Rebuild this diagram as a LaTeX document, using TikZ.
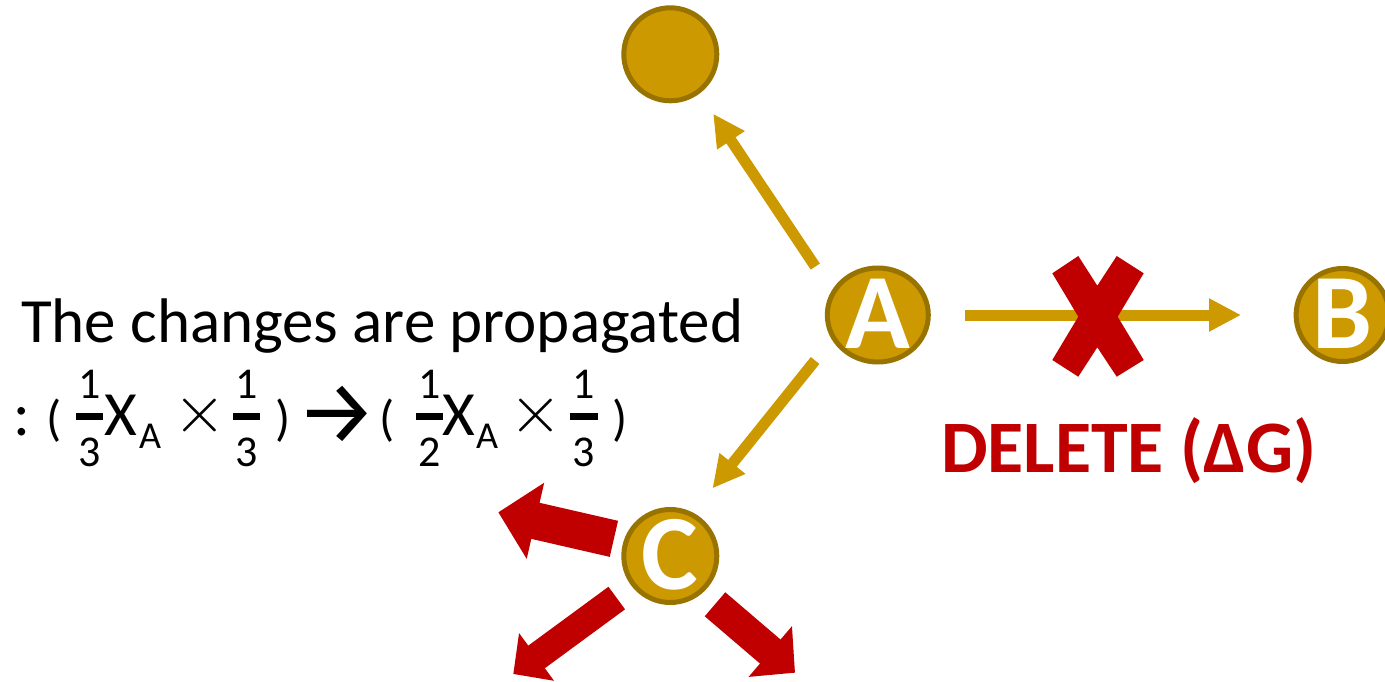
\documentclass[tikz,border=0pt]{standalone}
\usepackage{graphicx}
\usepackage{fontspec}
\setmainfont{Carlito}
\newfontfamily\fira{Fira Sans}
\usetikzlibrary{arrows.meta,shapes.geometric}
\definecolor{gold}{HTML}{CC9900}
\definecolor{golddark}{HTML}{997300}
\definecolor{delred}{HTML}{C00000}
\newcommand{\ltr}[1]{\makebox[0pt]{\raisebox{-33.7pt}[0pt][0pt]{#1}}}
\newcommand{\fr}[2]{{\fontsize{44}{44}\selectfont
  \setbox0=\hbox{#1}\setbox2=\hbox{#2}%
  \dimen0=\wd0 \ifdim\wd2>\dimen0 \dimen0=\wd2 \fi
  \advance\dimen0 by 5pt
  \rlap{\hbox to \dimen0{\hss\raisebox{36.7pt}{\copy0}\hss}}%
  \rlap{\hbox to \dimen0{\hss\raisebox{-31.5pt}{\copy2}\hss}}%
  \raisebox{15pt}{\rule{\dimen0}{7pt}}}}
\newcommand{\sbA}[1]{\raisebox{-13pt}{\fontsize{38}{38}\selectfont #1}}
\newcommand{\pr}[1]{{\fontsize{50}{50}\selectfont #1}}
\newcommand{\tms}{\raisebox{2.5pt}{\scalebox{6.8}{\normalsize$\times$}}}
\newcommand{\rarr}{\raisebox{-8pt}{\fira\fontsize{90}{90}\selectfont →}}
\newcommand{\at}[2]{\rlap{\hspace*{#1pt}\makebox[0pt]{#2}}}
\begin{document}
\begin{tikzpicture}[x=1pt,y=-1pt,
  vnode/.style={circle, draw=golddark, fill=gold, line width=5pt, minimum size=93pt,
    inner sep=0pt, outer sep=0pt, text=white, font=\fontsize{107}{107}\selectfont\bfseries},
  anode/.style={vnode, ellipse, minimum width=101pt, minimum height=94pt},
  goldarrow/.style={draw=gold, line width=11pt, -{Triangle[length=32pt, width=31pt]}},
  redarrow/.style={draw=delred, line width=#1pt, -{Triangle[length=0pt 1.03, width=0pt 2.05]}},
  txt/.style={anchor=base west, inner sep=0pt, outer sep=0pt, font=\fontsize{63}{63}\selectfont}]
\useasboundingbox (0,0) rectangle (1385,682);

% vertices
\node[vnode] (top) at (670.3,54.3) {};
\node[anode] (A) at (877.8,315) {\ltr{A}};
\node[vnode] (B) at (1342.6,315) {\ltr{B}};
\node[vnode] (C) at (670.3,556) {\ltr{C}};

% gold edges
\draw[goldarrow, shorten <=32pt, shorten >=26.8pt] (A.154.6) -- (top.-53.7);
\draw[goldarrow, shorten <=29.4pt, shorten >=33.6pt] (A.-153.2) -- (C.63.2);
\draw[goldarrow, shorten <=36.7pt, shorten >=55pt] (A.east) -- (B.west);

% red cross (deleted edge)
\fill[delred] (1052.3,273.3) -- (1078.3,256) -- (1097.3,285.7) -- (1116.7,256)
  -- (1143.7,273.3) -- (1117.7,316.7) -- (1143.7,360) -- (1116.7,376.7)
  -- (1097.3,347.3) -- (1078.3,376.7) -- (1052.3,360) -- (1078.3,316.7) -- cycle;

% red propagation arrows from C
\coordinate (tL) at (498.3,512.3);
\coordinate (tLL) at (513.3,674);
\coordinate (tLR) at (795,672.7);
\draw[redarrow=37, shorten <=12.5pt] (C.162.5) -- (tL);
\draw[redarrow=28, shorten <=21.6pt] (C.-141.1) -- (tLL);
\draw[redarrow=31.6, shorten <=19.5pt] (C.-50) -- (tLR);

% texts
\node[txt] (t1) at (21,342) {The changes are propagated};
\node[txt] (t2) at (0,435) {\at{21.5}{:}\at{54}{\pr{(}}\at{89}{\fr{1}{3}}\at{120}{X}\at{149.5}{\sbA{A}}%
  \at{199}{\tms}\at{246.3}{\fr{1}{3}}\at{282.5}{\pr{)}}\at{336.3}{\rarr}%
  \at{386.5}{\pr{(}}\at{429}{\fr{1}{2}}\at{458}{X}\at{486.5}{\sbA{A}}%
  \at{535.5}{\tms}\at{583.5}{\fr{1}{3}}\at{620}{\pr{)}}};
\node[anchor=base west, inner sep=0pt, text=delred, font=\fontsize{74}{74}\selectfont\bfseries] (del) at (941,472.7) {DELETE (ΔG)};
\end{tikzpicture}
\end{document}
